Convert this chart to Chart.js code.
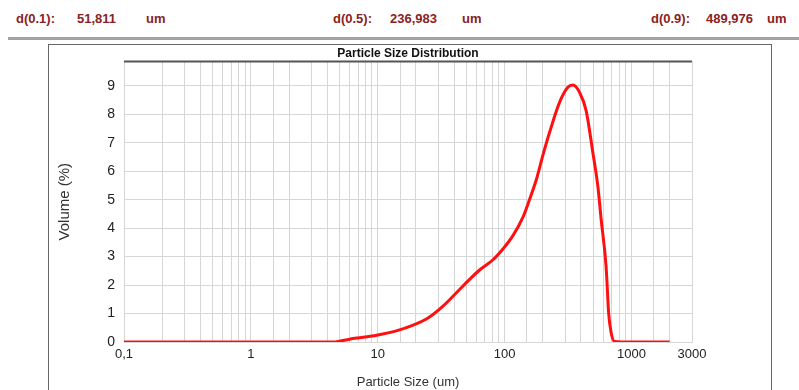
<!DOCTYPE html>
<html lang="en">
<head>
    <meta charset="UTF-8">
    <title>Particle Size Distribution</title>
    <script src="https://cdn.jsdelivr.net/npm/chart.js"></script>
    <style>
        body {
            margin: 0;
            width: 799px;
            height: 390px;
            overflow: hidden;
            background: #fff;
            font-family: "Liberation Sans", Arial, sans-serif;
            position: relative;
        }
        .hd {
            position: absolute;
            top: 11px;
            font-size: 13px;
            font-weight: bold;
            color: #8a2222;
            white-space: nowrap;
        }
        .rule {
            position: absolute;
            left: 8px;
            top: 37px;
            width: 791px;
            height: 3px;
            background: #a2a2a2;
        }
        .frame {
            position: absolute;
            left: 48px;
            top: 44px;
            width: 722px;
            height: 400px;
            border: 1px solid #666;
        }
        canvas {
            position: absolute;
            left: 0;
            top: 0;
        }
    </style>
</head>
<body>

    <span class="hd" style="left:16px">d(0.1):</span>
    <span class="hd" style="left:77px">51,811</span>
    <span class="hd" style="left:146px">um</span>
    <span class="hd" style="left:333px">d(0.5):</span>
    <span class="hd" style="left:390px">236,983</span>
    <span class="hd" style="left:462px">um</span>
    <span class="hd" style="left:651px">d(0.9):</span>
    <span class="hd" style="left:706px">489,976</span>
    <span class="hd" style="left:767px">um</span>

    <div class="rule"></div>
    <div class="frame"></div>

    <canvas id="psdChart" width="799" height="390"></canvas>

<script>
    // particle size (um) and volume (%)
    const sizes = [0.1, 1, 3, 4.5, 5, 6, 7.5, 9.8, 14, 19, 25.6, 32.7, 41.7, 53, 63.5, 81, 97, 116, 139, 157,
                   178, 200, 226, 271, 315, 345, 389, 439, 496, 543, 577, 631, 661, 690, 735, 1000, 2000];
    const volumes = [0, 0, 0, 0, 0.03, 0.1, 0.16, 0.24, 0.39, 0.59, 0.88, 1.26, 1.73, 2.2, 2.53, 2.89, 3.27, 3.73, 4.37, 5.0,
                     5.71, 6.55, 7.36, 8.42, 8.95, 9.03, 8.78, 8.13, 6.66, 5.48, 4.3, 2.65, 1.01, 0.35, 0.02, 0, 0];

    const xLabels = [0.1, 1, 10, 100, 1000, 3000];
    const yLabels = [0, 1, 2, 3, 4, 5, 6, 7, 8, 9];

    Chart.defaults.font.family = '"Liberation Sans", Arial, sans-serif';
    Chart.defaults.color = '#222';

    // dark rule along the top of the plot area
    const topRule = {
        id: 'topRule',
        afterDatasetsDraw(chart) {
            const a = chart.chartArea;
            const ctx = chart.ctx;
            ctx.save();
            ctx.strokeStyle = '#555';
            ctx.lineWidth = 2;
            ctx.beginPath();
            ctx.moveTo(a.left, a.top);
            ctx.lineTo(a.right, a.top);
            ctx.stroke();
            ctx.restore();
        }
    };

    let points = sizes.map((s, i) => ({ x: s, y: volumes[i] }));

    new Chart(document.getElementById('psdChart'), {
        type: 'line',
        data: {
            datasets: [{
                data: points,
                borderColor: '#ff1010',
                borderWidth: 3,
                pointRadius: 0,
                cubicInterpolationMode: 'monotone',
                fill: false
            }]
        },
        options: {
            responsive: false,
            animation: false,
            layout: { padding: { left: 0, top: 46, right: 107, bottom: 0 } },
            plugins: {
                legend: { display: false },
                tooltip: { enabled: false },
                title: {
                    display: true,
                    text: 'Particle Size Distribution',
                    fullSize: false,
                    color: '#111',
                    font: { size: 12, weight: 'bold' },
                    padding: { top: 0, bottom: 1 }
                }
            },
            scales: {
                x: {
                    type: 'logarithmic',
                    min: 0.1,
                    max: 3000,
                    afterFit(scale) { scale.height = 48; },
                    grid: { color: '#d6d6d6', drawTicks: false },
                    border: { color: '#d6d6d6' },
                    ticks: {
                        autoSkip: false,
                        maxRotation: 0,
                        padding: 5,
                        font: { size: 13 },
                        callback(v) {
                            const hit = xLabels.find(l => Math.abs(l - v) < l * 1e-6);
                            if (hit === undefined) return '';
                            return hit < 1 ? String(hit).replace('.', ',') : String(hit);
                        }
                    },
                    title: {
                        display: true,
                        text: 'Particle Size (um)',
                        color: '#333',
                        font: { size: 13 },
                        padding: { top: 0, bottom: 0 }
                    }
                },
                y: {
                    min: 0,
                    max: 9.86,
                    afterFit(scale) { scale.width = 124; },
                    grid: { color: '#d6d6d6', drawTicks: false },
                    border: { color: '#d6d6d6' },
                    ticks: {
                        stepSize: 1,
                        includeBounds: false,
                        padding: 9,
                        font: { size: 14 },
                        callback(v) { return yLabels.includes(v) ? String(v) : ''; }
                    },
                    title: {
                        display: true,
                        text: 'Volume (%)',
                        color: '#333',
                        font: { size: 15 },
                        padding: { top: 56 }
                    }
                }
            }
        },
        plugins: [topRule]
    });
</script>

</body>
</html>
